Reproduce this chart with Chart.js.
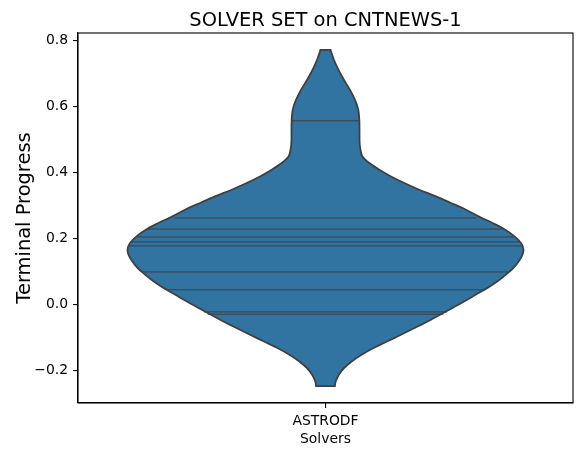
<!DOCTYPE html>
<html>
<head>
<meta charset="utf-8">
<script src="https://cdn.jsdelivr.net/npm/chart.js@4"></script>
<style>
html,body{margin:0;padding:0;background:#fff;}
#wrap{width:583px;height:456px;}
</style>
</head>
<body>
<div id="wrap"><canvas id="c" width="583" height="456"></canvas></div>
<script>
// ---- data ----
const categories = ['ASTRODF'];
const chartTitle = 'SOLVER SET on CNTNEWS-1';
const yTitle = 'Terminal Progress';
const xTitle = 'Solvers';
const yTickValues = [-0.2, 0.0, 0.2, 0.4, 0.6, 0.8];
const yTickLabels = ['\u22120.2', '0.0', '0.2', '0.4', '0.6', '0.8'];

// violin outline (value, half-width in category units), bottom to top
const violinValues = [-0.2469, -0.2318, -0.2115, -0.1912, -0.1713, -0.1510, -0.1307, -0.1108, -0.0905, -0.0702,
  -0.0503, -0.0300, -0.0097, 0.0102, 0.0305, 0.0508, 0.0707, 0.0910, 0.1113, 0.1312,
  0.1515, 0.1666, 0.1869, 0.2068, 0.2292, 0.2474, 0.2673, 0.2876, 0.3079, 0.3278,
  0.3481, 0.3684, 0.3883, 0.4086, 0.4289, 0.4488, 0.4691, 0.4993, 0.5296, 0.5598,
  0.5901, 0.6203, 0.6506, 0.6808, 0.7111, 0.7413, 0.7716];
const violinHalfWidths = [0.0188, 0.0208, 0.0273, 0.0380, 0.0535, 0.0737, 0.0980, 0.1253, 0.1535, 0.1808,
  0.2071, 0.2323, 0.2566, 0.2808, 0.3040, 0.3273, 0.3475, 0.3646, 0.3798, 0.3905,
  0.3980, 0.4000, 0.3949, 0.3818, 0.3606, 0.3374, 0.3091, 0.2838, 0.2535, 0.2232,
  0.1895, 0.1592, 0.1323, 0.1087, 0.0885, 0.0747, 0.0707, 0.0687, 0.0687, 0.0683,
  0.0663, 0.0596, 0.0495, 0.0374, 0.0263, 0.0172, 0.0101];

// observations (inner sticks) and their half-lengths
const stickValues = [0.557, 0.2625, 0.229, 0.205, 0.190, 0.178, 0.099, 0.045, -0.022, -0.029];
const stickHalfWidths = [0.068, 0.305, 0.360, 0.382, 0.392, 0.397, 0.371, 0.321, 0.246, 0.238];

// ---- build datasets ----
const fillColor = '#3274a1';
const lineColor = '#3f3f3f';
const catPos = 0; // position of 'ASTRODF' on the x axis
const nLast = violinValues.length - 1;

const rightSide = violinValues.map((v, i) => ({x: catPos + violinHalfWidths[i], y: v}));
const leftSide = violinValues.map((v, i) => ({x: catPos - violinHalfWidths[i], y: v}));
const topCap = [leftSide[nLast], rightSide[nLast]];
const bottomCap = [leftSide[0], rightSide[0]];

const curve = {indexAxis: 'y', pointRadius: 0, cubicInterpolationMode: 'monotone', tension: 0.4};
const edge = {borderColor: lineColor, borderWidth: 1.8, borderCapStyle: 'round', borderJoinStyle: 'round', fill: false, order: 0};

const datasets = [];
// filled body (right edge filled to the left edge)
datasets.push(Object.assign({data: rightSide, borderWidth: 0, borderColor: 'rgba(0,0,0,0)', backgroundColor: fillColor, fill: '+1', order: 2}, curve));
datasets.push(Object.assign({data: leftSide, borderWidth: 0, borderColor: 'rgba(0,0,0,0)', backgroundColor: fillColor, fill: false, order: 2}, curve));
// inner sticks
stickValues.forEach((v, i) => {
  datasets.push({
    data: [{x: catPos - stickHalfWidths[i], y: v}, {x: catPos + stickHalfWidths[i], y: v}],
    indexAxis: 'y', borderColor: lineColor, borderWidth: 1, pointRadius: 0,
    fill: false, tension: 0, order: 1
  });
});
// outline
datasets.push(Object.assign({data: rightSide}, curve, edge));
datasets.push(Object.assign({data: leftSide}, curve, edge));
datasets.push(Object.assign({data: topCap, indexAxis: 'y', pointRadius: 0, tension: 0}, edge));
datasets.push(Object.assign({data: bottomCap, indexAxis: 'y', pointRadius: 0, tension: 0}, edge));

const frame = {
  id: 'frame',
  afterDraw(chart) {
    const {ctx, chartArea: a} = chart;
    ctx.save();
    ctx.strokeStyle = '#000';
    ctx.lineWidth = 1.1;
    ctx.strokeRect(a.left, a.top, a.right - a.left, a.bottom - a.top);
    ctx.fillStyle = '#000';
    ctx.font = '19.44px "DejaVu Sans"';
    ctx.textAlign = 'center';
    ctx.textBaseline = 'alphabetic';
    ctx.fillText(chartTitle, (a.left + a.right) / 2, a.top - 7.3);
    ctx.restore();
  }
};

const tickFont = {family: 'DejaVu Sans', size: 13.9};

new Chart(document.getElementById('c'), {
  type: 'line',
  data: {datasets},
  plugins: [frame],
  options: {
    responsive: false,
    animation: false,
    devicePixelRatio: 1,
    layout: {padding: {left: 0, right: 10, top: 33, bottom: 0}},
    plugins: {legend: {display: false}, tooltip: {enabled: false}, title: {display: false}},
    scales: {
      x: {
        type: 'linear', min: -0.5, max: 0.5,
        afterBuildTicks: s => { s.ticks = categories.map((c, i) => ({value: catPos + i})); },
        afterFit: s => { s.height = 53; },
        ticks: {
          color: '#000', font: tickFont, padding: 5, maxRotation: 0, autoSkip: false,
          callback: (v, i) => categories[i]
        },
        grid: {display: true, drawOnChartArea: false, drawTicks: true, tickLength: 5, color: '#000', lineWidth: 1.1},
        border: {display: true, color: '#000', width: 1.1},
        title: {display: true, text: xTitle, color: '#000', font: tickFont, padding: {top: 0, bottom: 8.3}}
      },
      y: {
        type: 'linear', min: -0.298, max: 0.823,
        afterBuildTicks: s => { s.ticks = yTickValues.map(v => ({value: v})); },
        afterFit: s => { s.width = 78; },
        ticks: {
          color: '#000', font: tickFont, padding: 5, autoSkip: false,
          callback: (v, i) => yTickLabels[i]
        },
        grid: {display: true, drawOnChartArea: false, drawTicks: true, tickLength: 5, color: '#000', lineWidth: 1.1},
        border: {display: true, color: '#000', width: 1.1},
        title: {display: true, text: yTitle, color: '#000', font: {family: 'DejaVu Sans', size: 19.44}, padding: {top: 13, bottom: 0}}
      }
    }
  }
});
</script>
</body>
</html>
